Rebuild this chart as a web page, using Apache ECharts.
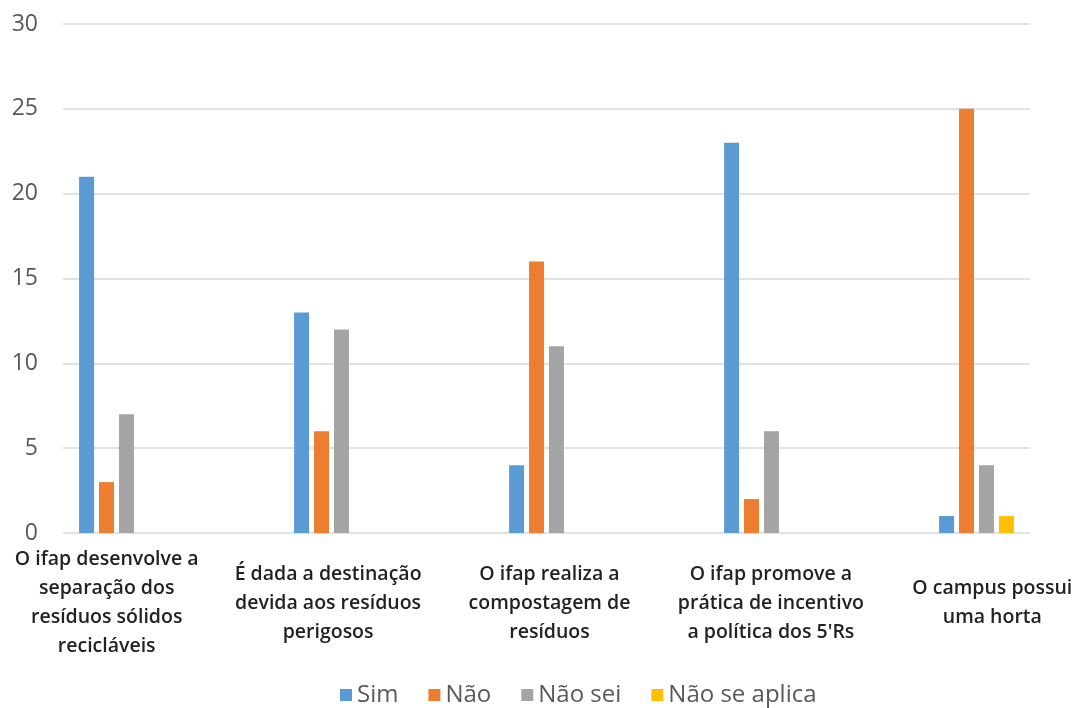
<!DOCTYPE html>
<html>
<head>
<meta charset="utf-8">
<script src="https://cdn.jsdelivr.net/npm/echarts@6/dist/echarts.min.js"></script>
<style>html,body{margin:0;padding:0;background:#fff}#c{width:1075px;height:708px}</style>
</head>
<body>
<div id="c"></div>
<script>
const categories = [
  "O ifap desenvolve a\nseparação dos\nresíduos sólidos\nrecicláveis",
  "É dada a destinação\ndevida aos resíduos\nperigosos",
  "O ifap realiza a\ncompostagem de\nresíduos",
  "O ifap promove a\nprática de incentivo\na política dos 5'Rs",
  "O campus possui\numa horta"
];
const seriesNames = ["Sim", "Não", "Não sei", "Não se aplica"];
const sim = [21, 13, 4, 23, 1];
const nao = [3, 6, 16, 2, 25];
const naoSei = [7, 12, 11, 6, 4];
const naoSeAplica = [0, 0, 0, 0, 1];
const yTicks = { min: 0, max: 30, interval: 5 };

const colors = ["#5B9BD5", "#ED7D31", "#A5A5A5", "#FFC000"];
const chart = echarts.init(document.getElementById('c'));
const values = [sim, nao, naoSei, naoSeAplica];

chart.setOption({
  animation: false,
  color: colors,
  textStyle: { fontFamily: "Open Sans" },
  grid: [
    { left: 63, right: 45, top: 24, bottom: 175, outerBoundsMode: 'none' },
    { left: 9, right: -9, top: 24, bottom: 175, outerBoundsMode: 'none' },
    { left: -4, right: -28, top: 24, bottom: 175, outerBoundsMode: 'none' }
  ],
  xAxis: [
    { type: 'category', gridIndex: 0, data: categories, show: false },
    { type: 'category', gridIndex: 1, data: categories, show: false },
    { type: 'category', gridIndex: 2, data: categories,
      axisLine: { show: false }, axisTick: { show: false },
      axisLabel: { interval: 0, margin: 70, verticalAlign: 'middle', color: '#222',
        fontSize: 19.5, fontWeight: 600, lineHeight: 29, fontFamily: 'Open Sans' } }
  ],
  yAxis: [
    { type: 'value', gridIndex: 0, min: yTicks.min, max: yTicks.max, interval: yTicks.interval,
      axisLine: { show: false }, axisTick: { show: false },
      axisLabel: { color: '#595959', fontSize: 23, margin: 25, fontFamily: 'Open Sans' },
      splitLine: { lineStyle: { color: '#D9D9D9', width: 1.5 } } },
    { type: 'value', gridIndex: 1, min: yTicks.min, max: yTicks.max, interval: yTicks.interval, show: false },
    { type: 'value', gridIndex: 2, min: yTicks.min, max: yTicks.max, interval: yTicks.interval, show: false }
  ],
  legend: {
    data: seriesNames, left: 335, top: 678, itemWidth: 12, itemHeight: 12, itemGap: 30,
    icon: 'rect', textStyle: { color: '#595959', fontSize: 24, fontFamily: 'Open Sans' }
  },
  series: seriesNames.map((n, i) => ({
    name: n, type: 'bar', xAxisIndex: 1, yAxisIndex: 1,
    data: values[i], barWidth: 15, barGap: '33%'
  }))
});
</script>
</body>
</html>
